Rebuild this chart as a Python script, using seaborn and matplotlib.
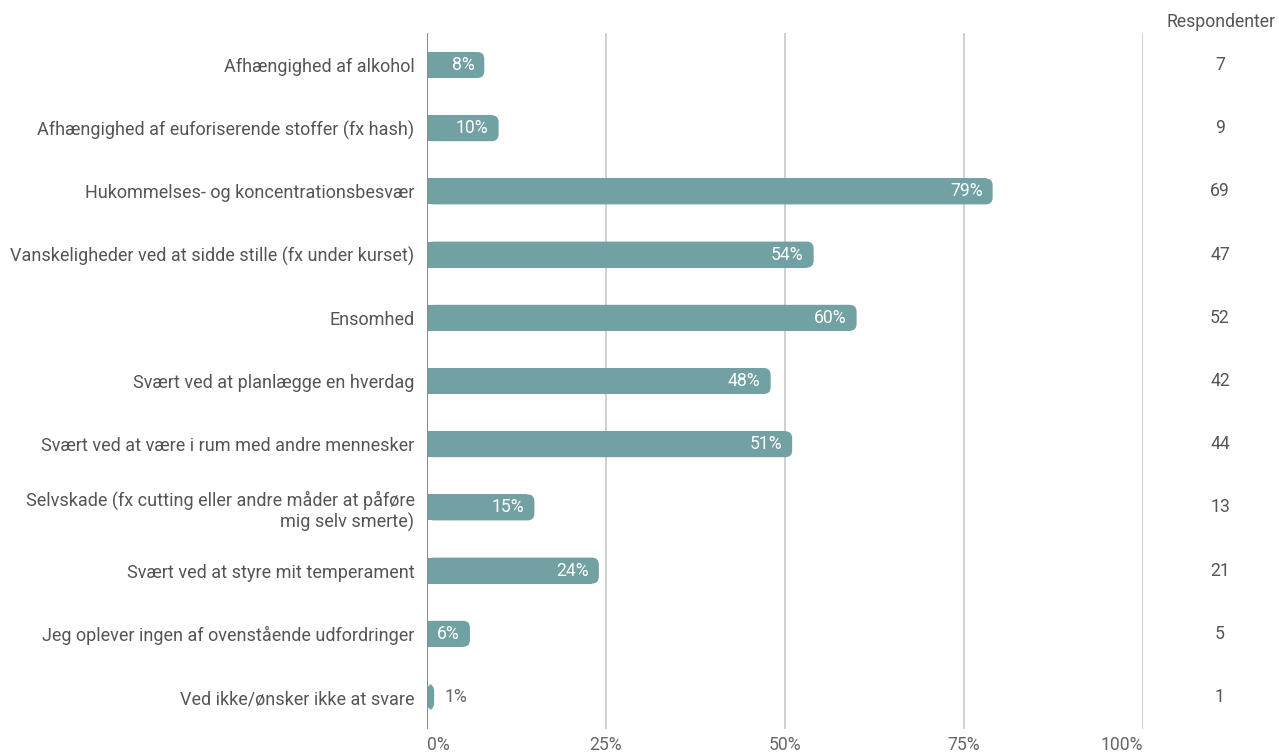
import matplotlib
matplotlib.use("Agg")
import matplotlib.pyplot as plt
import seaborn as sns
import pandas as pd
from matplotlib.patches import FancyBboxPatch

# ==========================================
# DATA
# ==========================================

categories = [
    "Afhængighed af alkohol",
    "Afhængighed af euforiserende stoffer (fx hash)",
    "Hukommelses- og koncentrationsbesvær",
    "Vanskeligheder ved at sidde stille (fx under kurset)",
    "Ensomhed",
    "Svært ved at planlægge en hverdag",
    "Svært ved at være i rum med andre mennesker",
    "Selvskade (fx cutting eller andre måder at påføre\nmig selv smerte)",
    "Svært ved at styre mit temperament",
    "Jeg oplever ingen af ovenstående udfordringer",
    "Ved ikke/ønsker ikke at svare",
]
percent = [8, 10, 79, 54, 60, 48, 51, 15, 24, 6, 1]
respondents = [7, 9, 69, 47, 52, 42, 44, 13, 21, 5, 1]
x_ticks = [0, 25, 50, 75, 100]
x_tick_labels = ["0%", "25%", "50%", "75%", "100%"]

df = pd.DataFrame({"category": categories, "percent": percent, "n": respondents})

# ==========================================
# STYLE
# ==========================================

sns.set_style("white")
plt.rcParams["font.family"] = ["Roboto", "DejaVu Sans"]

bar_color = "#71a1a2"
text_color = "#555555"
fs = 12.7

W, H = 1279, 756
fig = plt.figure(figsize=(W / 100, H / 100), dpi=100)
ax_left, ax_right = 427 / W, 1143 / W
ax_top, ax_bottom = 1 - 33.4 / H, 1 - 728.6 / H
ax = fig.add_axes([ax_left, ax_bottom, ax_right - ax_left, ax_top - ax_bottom])

# ==========================================
# BARS
# ==========================================

sns.barplot(data=df, x="percent", y="category", color=bar_color,
            width=26 / 63.2, saturation=1, ax=ax, zorder=3)

ax.set_xlim(0, 100)
ax.set_ylim(len(categories) - 0.5, -0.5)

# round the right end of each bar
px_x = (ax_right - ax_left) * W / 100   # pixels per x unit
px_y = (ax_top - ax_bottom) * H / len(categories)  # pixels per y unit
r_px = 7
for p in list(ax.patches):
    x0, y0 = p.get_x(), p.get_y()
    w, h = p.get_width(), p.get_height()
    r = min(r_px / px_x, w)
    p.set_width(max(w - r, 0))
    p.set_linewidth(0)
    rb = FancyBboxPatch((x0, y0), w, h,
                        boxstyle=f"round,pad=0,rounding_size={r}",
                        mutation_aspect=px_x / px_y,
                        facecolor=bar_color, edgecolor="none", zorder=3)
    ax.add_patch(rb)

# ==========================================
# LABELS
# ==========================================

for i, (v, n) in enumerate(zip(percent, respondents)):
    if v >= 4:
        ax.text(v - 10 / px_x, i, f"{v}%", ha="right", va="center",
                color="white", fontsize=fs, zorder=4)
    else:
        ax.text(v + 10 / px_x, i, f"{v}%", ha="left", va="center",
                color="#666666", fontsize=fs, zorder=4)
    fig.text(1220 / W, 1 - (65 + i * 63.2) / H, str(n), ha="center",
             va="center", color="#555555", fontsize=fs)

fig.text(1275 / W, 1 - 22 / H, "Respondenter", ha="right", va="center",
         color="#555555", fontsize=fs)

# ==========================================
# AXES
# ==========================================

ax.set_xticks(x_ticks)
ax.set_xticklabels(x_tick_labels, color="#666666", fontsize=fs)
xl = ax.get_xticklabels()
xl[0].set_horizontalalignment("left")
xl[-1].set_horizontalalignment("right")
ax.set_xlabel("")
ax.set_ylabel("")
ax.tick_params(axis="y", length=0, pad=9, labelsize=13, labelcolor=text_color)
ax.tick_params(axis="x", length=0, pad=5)
for lab in ax.get_yticklabels():
    lab.set_horizontalalignment("right")
    lab.set_multialignment("right")

for t in x_ticks[1:]:
    ax.axvline(t, color="#c8c8c8", linewidth=1.2, zorder=1)
ax.axvline(0, color="#8a8a8a", linewidth=1.5, zorder=5)

for s in ax.spines.values():
    s.set_visible(False)

fig.savefig("out.png", dpi=100)
